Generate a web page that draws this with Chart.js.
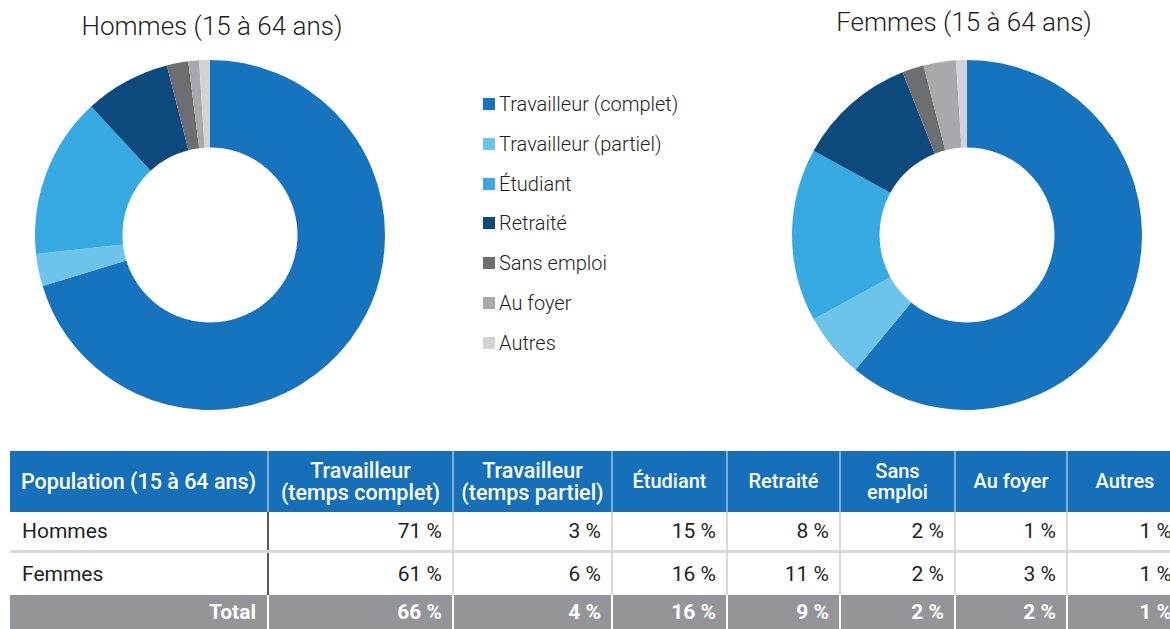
<!DOCTYPE html>
<html lang="fr">
<head>
<meta charset="utf-8">
<script src="https://cdn.jsdelivr.net/npm/chart.js@4.4.1/dist/chart.umd.min.js"></script>
<style>
  html, body { margin: 0; padding: 0; background: #fff; }
  body { width: 1170px; height: 629px; position: relative; overflow: hidden; font-family: Roboto, "Noto Sans", sans-serif; }
  .title { position: absolute; font-size: 26px; font-weight: 300; color: #231f20; white-space: nowrap; transform: translateX(-50%); line-height: 30px; }
  .chartbox { position: absolute; width: 350px; height: 350px; }
  #legend { position: absolute; left: 483px; top: 92px; margin: 0; padding: 0; list-style: none; }
  #legend li { height: 39.8px; display: flex; align-items: flex-start; font-size: 20px; font-weight: 300; color: #231f20; line-height: 24px; white-space: nowrap; }
  #legend li span.box { width: 12px; height: 12px; margin-top: 6px; margin-right: 4px; flex: none; }
  table { position: absolute; left: 10px; top: 451px; border-collapse: collapse; table-layout: fixed; width: 1172px; font-size: 21px; }
  th { background: #1570b9; color: #fff; font-weight: 500; font-size: 21.5px; height: 61px; padding: 0 1px; line-height: 22px; border-left: 2px solid #7fabd7; white-space: nowrap; }
  th:nth-child(n+4) { font-size: 20px; line-height: 21px; }
  th:first-child { border-left: none; }
  td { height: 38px; padding: 0 10px 0 0; text-align: right; color: #231f20; border-left: 2px solid #d9d9d9; border-top: 3px solid #d9d9d9; white-space: nowrap; }
  tr.first td { border-top: none; }
  td:first-child { text-align: left; padding-left: 12px; border-left: none; }
  td:nth-child(2) { border-left: 2px solid #58595b; }
  tr.fem td { height: 41px; }
  tr.total td { background: #939598; color: #fff; font-weight: 700; border-left: 2px solid #fff; border-top: 1px solid #fff; height: 34px; }
  tr.total td:first-child { text-align: right; padding-right: 11px; border-left: none; }
</style>
</head>
<body>
<div class="title" style="left:212px; top:11px;">Hommes (15 à 64 ans)</div>
<div class="title" style="left:964px; top:7px;">Femmes (15 à 64 ans)</div>
<div class="chartbox" style="left:35px; top:60px;"><canvas id="hommes" width="350" height="350"></canvas></div>
<div class="chartbox" style="left:792px; top:60px;"><canvas id="femmes" width="350" height="350"></canvas></div>
<ul id="legend"></ul>
<table id="tab"></table>
<script>
// Situation d'activité, population de 15 à 64 ans (en %)
const categories = ["Travailleur (complet)", "Travailleur (partiel)", "Étudiant", "Retraité", "Sans emploi", "Au foyer", "Autres"];
const tableHeaders = ["Population (15 à 64 ans)", "Travailleur<br>(temps complet)", "Travailleur<br>(temps partiel)", "Étudiant", "Retraité", "Sans<br>emploi", "Au foyer", "Autres"];
const hommes = [71, 3, 15, 8, 2, 1, 1];
const femmes = [61, 6, 16, 11, 2, 3, 1];
const total = [66, 4, 16, 9, 2, 2, 1];
const colors = ["#1673be", "#6cc4ea", "#36aae1", "#0c4a7e", "#6d6e71", "#a7a9ac", "#d1d3d4"];

function donut(id, values) {
  return new Chart(document.getElementById(id), {
    type: "doughnut",
    data: { labels: categories, datasets: [{ data: values, backgroundColor: colors, borderWidth: 0, hoverOffset: 0 }] },
    options: {
      responsive: false,
      animation: false,
      cutout: "50%",
      layout: { padding: 0 },
      plugins: { legend: { display: false }, tooltip: { enabled: false } },
      events: []
    }
  });
}
donut("hommes", hommes);
donut("femmes", femmes);

// Légende commune
const legend = document.getElementById("legend");
categories.forEach((c, i) => {
  const li = document.createElement("li");
  li.innerHTML = '<span class="box" style="background:' + colors[i] + '"></span>' + c;
  legend.appendChild(li);
});

// Tableau récapitulatif
const widths = [258, 185, 159, 115, 113, 115, 112, 115];
const pct = v => v + "\u00a0%";
let html = "<colgroup>" + widths.map(w => '<col style="width:' + w + 'px">').join("") + "</colgroup>";
html += "<tr>" + tableHeaders.map(h => "<th>" + h + "</th>").join("") + "</tr>";
html += '<tr class="first"><td>Hommes</td>' + hommes.map(v => "<td>" + pct(v) + "</td>").join("") + "</tr>";
html += '<tr class="fem"><td>Femmes</td>' + femmes.map(v => "<td>" + pct(v) + "</td>").join("") + "</tr>";
html += '<tr class="total"><td>Total</td>' + total.map(v => "<td>" + pct(v) + "</td>").join("") + "</tr>";
document.getElementById("tab").innerHTML = html;
</script>
</body>
</html>
